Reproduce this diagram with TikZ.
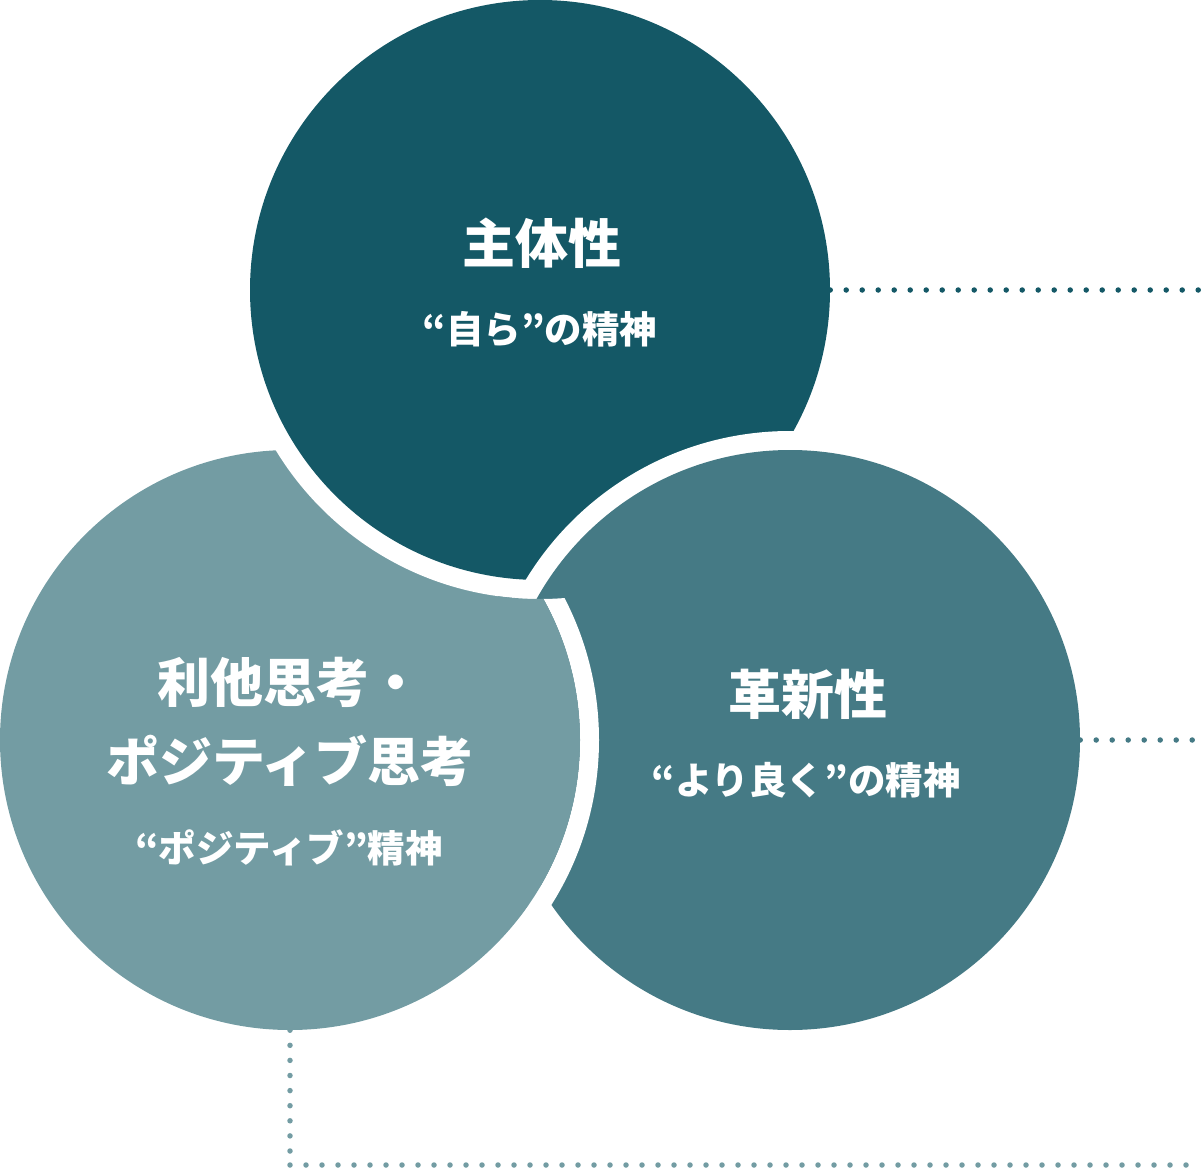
\documentclass[tikz,border=0pt]{standalone}
\usepackage{fontspec}
\newfontfamily\jpfont{Noto Sans CJK JP}

\definecolor{deepteal}{HTML}{145866}
\definecolor{midteal}{HTML}{457A85}
\definecolor{paleteal}{HTML}{739CA3}

\tikzset{
  disk/.style={circle, inner sep=0pt, minimum size=580pt},
  gapdisk/.style={circle, inner sep=0pt, minimum size=618pt, fill=white},
  gapring/.style={circle, inner sep=0pt, minimum size=599pt, draw=white, line width=19pt},
  dotline/.style={line width=5.5pt, line cap=round, dash pattern=on 0pt off 16pt},
  heading/.style={text=white, align=center,
    font=\jpfont\bfseries\fontsize{53}{79}\selectfont},
  motto/.style={text=white,
    font=\jpfont\bfseries\fontsize{37.5}{40}\selectfont},
}

\begin{document}
\begin{tikzpicture}[x=1pt, y=-1pt]
  \useasboundingbox (0,0) rectangle (1202,1169);
  % circles, left under top, top under right
  \node[disk, fill=paleteal] (rita) at (290,740) {};
  \node[gapdisk] (jishugap) at (540,290) {};
  \node[disk, fill=deepteal] (jishu) at (540,290) {};
  \node[gapdisk] (kakushingap) at (790,740) {};
  \node[disk, fill=midteal] (kakushin) at (790,740) {};
  % left circle again, over the right one
  \begin{scope}[even odd rule]
    \clip (kakushin.center) circle[radius=325pt];
    \clip (0,0) rectangle (1202,1169)
      (jishu.center) circle[radius=309pt];
    \node[gapring] (ritagap) at (rita.center) {};
    \node[disk, fill=paleteal] (ritaover) at (rita.center) {};
  \end{scope}
  % dotted leaders
  \coordinate (jishuend) at (1200,290);
  \coordinate (kakushinend) at (1200,740);
  \coordinate (ritacorner) at (290,1165);
  \coordinate (ritaend) at (1200,1165);
  \draw[dotline, deepteal] (jishu.east) -- (jishuend);
  \draw[dotline, midteal] (kakushin.east) -- (kakushinend);
  \draw[dotline, paleteal, dash pattern=on 0pt off 15.1pt] (rita.south) -- (ritacorner);
  \draw[dotline, paleteal] (ritacorner) -- (ritaend);
  % texts
  \node[heading] (jishutitle) at (542,243) {主体性};
  \node[motto] (jishumotto) at (540,329) {“自ら”の精神};
  \node[heading] (ritatitle) at (290,722) {利他思考・\\ポジティブ思考};
  \node[motto] (ritamotto) at (289,848) {“ポジティブ”精神};
  \node[heading] (kakushintitle) at (808,694) {革新性};
  \node[motto] (kakushinmotto) at (806,780) {“より良く”の精神};
\end{tikzpicture}
\end{document}
